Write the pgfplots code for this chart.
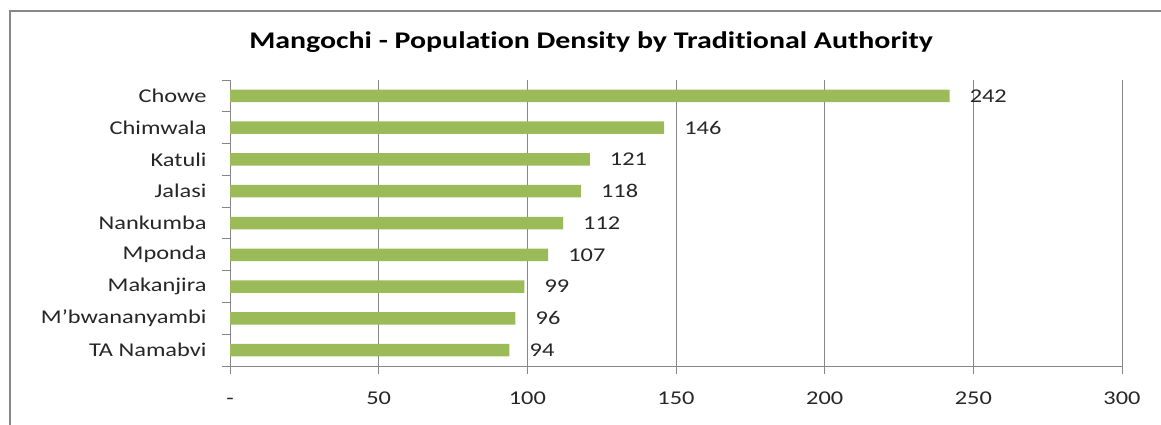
\documentclass[border=0pt]{standalone}
\usepackage{fontspec}
\setmainfont{Carlito}[FakeStretch=1.25, Ligatures=NoCommon]
\usepackage{pgfplots}
\pgfplotsset{compat=1.18}
\definecolor{bargreen}{HTML}{9BBB59}
\definecolor{gridgray}{HTML}{878787}
\definecolor{txt}{HTML}{262626}
\begin{document}
\begin{tikzpicture}[x=1pt,y=1pt]
\useasboundingbox (0,0) rectangle (1161,-425);
\draw[gridgray, line width=2pt] (10,-425) -- (10,-11) -- (1161,-11);
\node[anchor=base, inner sep=0pt, font=\fontsize{23.9}{28}\selectfont\bfseries] at (591,-48.3) {Mangochi - Population Density by Traditional Authority};
\begin{axis}[
  at={(230pt,-366pt)}, anchor=south west,
  scale only axis, width=892pt, height=286pt,
  xbar, bar width=12.5pt,
  xmin=0, xmax=300, ymin=-0.5, ymax=8.5,
  xtick={0,50,...,300}, xticklabels={-,50,100,150,200,250,300},
  ytick={-0.5,0.5,...,8.5},
  y tick label as interval,
  yticklabels={TA Namabvi\ ,M’bwananyambi,Makanjira,Mponda,Nankumba,Jalasi,Katuli,Chimwala,Chowe},
  xmajorgrids, ymajorgrids=false,
  grid style={gridgray, line width=1pt},
  axis line style={gridgray, line width=1pt},
  tick style={gridgray, line width=1pt},
  tick align=outside, major tick length=8pt,
  axis x line*=bottom, axis y line*=left,
  tick label style={font=\fontsize{19.5}{23}\selectfont, text=txt},
  xticklabel style={yshift=-14pt, text height=12.5pt, text depth=0pt},
  yticklabel style={xshift=-12pt},
  /pgf/number format/assume math mode=true,
  nodes near coords,
  every node near coord/.append style={font=\fontsize{19.5}{23}\selectfont, text=txt, anchor=west, inner sep=0pt, xshift=20pt},
]
\addplot[fill=bargreen, draw=none] coordinates {(94,0) (96,1) (99,2) (107,3) (112,4) (118,5) (121,6) (146,7) (242,8)};
\end{axis}
\end{tikzpicture}
\end{document}
